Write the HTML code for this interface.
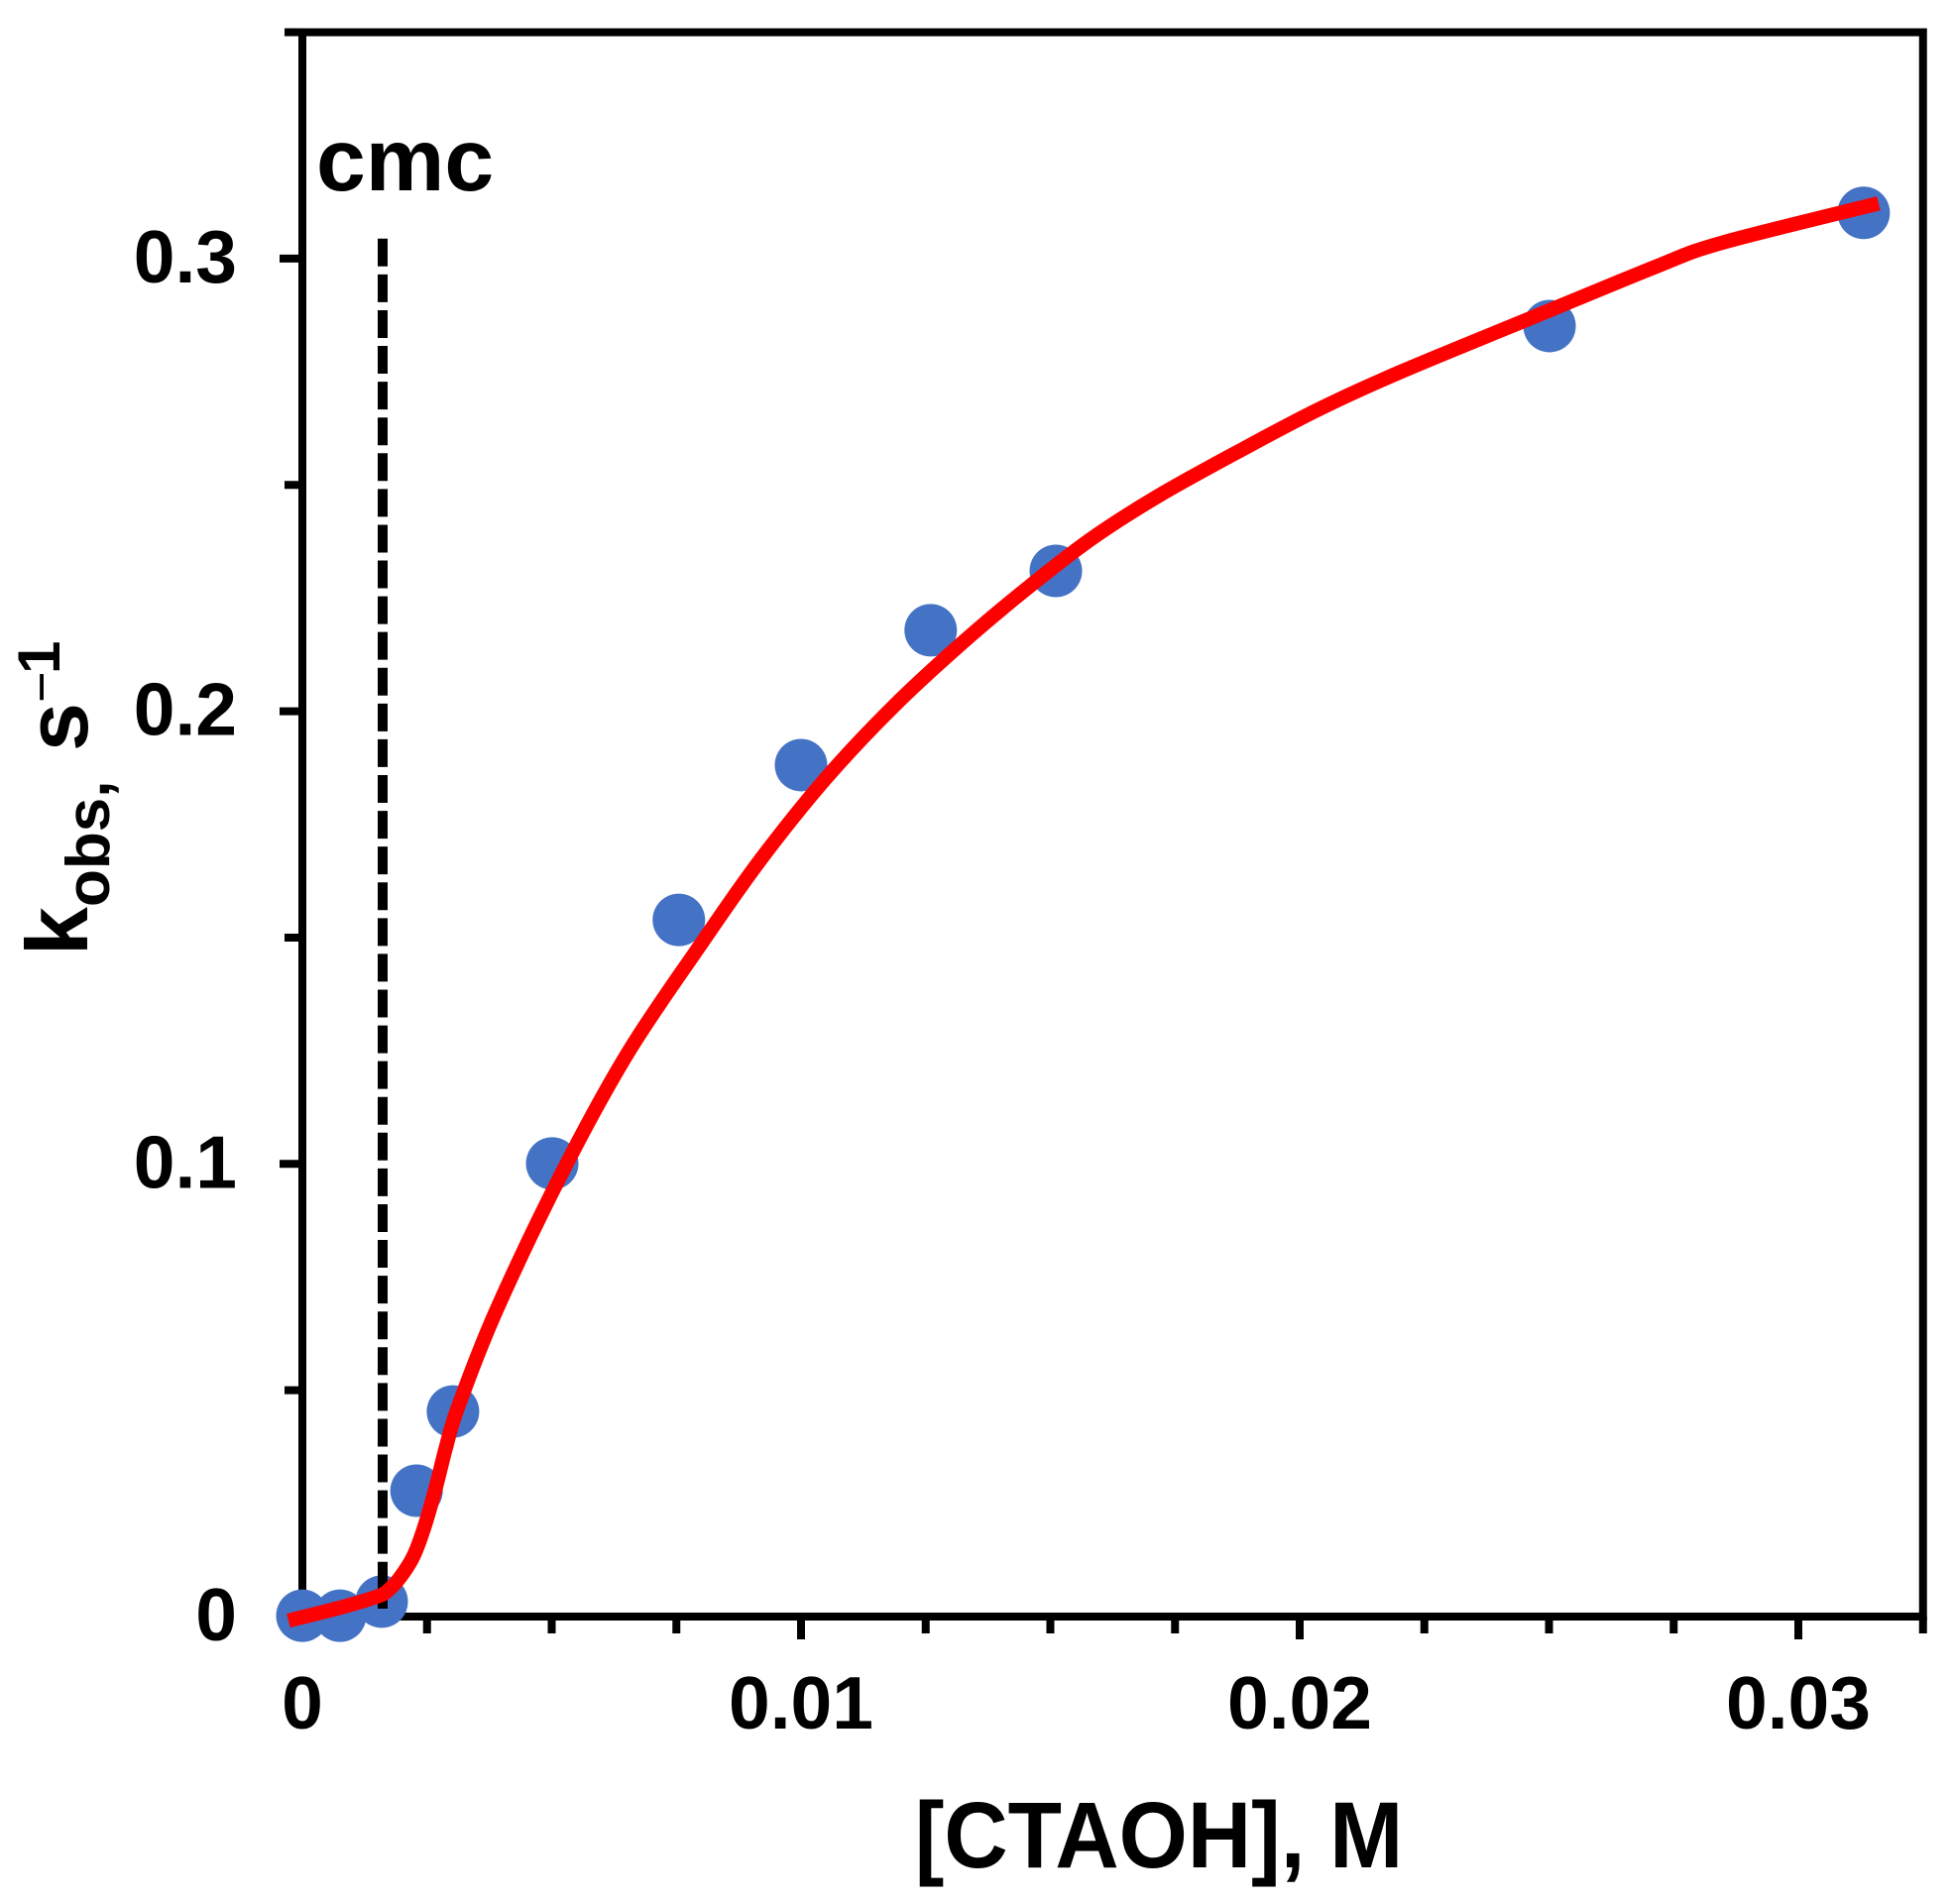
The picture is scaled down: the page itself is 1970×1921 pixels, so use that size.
<!DOCTYPE html>
<html lang="en">
<head>
<meta charset="utf-8">
<title>kobs vs [CTAOH]</title>
<style>
html,body{margin:0;padding:0;background:#fff;}
svg{position:absolute;left:0;top:0;display:block;}
text{font-family:"Liberation Sans",Arial,sans-serif;font-weight:700;fill:#000;}
</style>
</head>
<body>
<svg id="chart" xmlns="http://www.w3.org/2000/svg" width="1970" height="1921" viewBox="0 0 1970 1921">
  <rect x="0" y="0" width="1970" height="1921" fill="#fff"/>
  <g id="axes"></g>
  <g id="points"></g>
  <g id="cmc-group"></g>
  <g id="curve"></g>
  <text x="319" y="192" font-size="89.5">cmc</text>
  <text transform="translate(1169,1884) scale(1,1.06)" x="0" y="0" font-size="89" text-anchor="middle">[CTAOH], M</text>
  <text transform="rotate(-90)" font-size="88"><tspan x="-964" y="88">k</tspan><tspan x="-915" y="110" font-size="62">obs,</tspan><tspan x="-758" y="88">s</tspan><tspan x="-709" y="60" font-size="54" font-weight="400">−</tspan><tspan x="-680" y="60" font-size="60">1</tspan></text>
</svg>
<script>
const xMajorTicks = [0, 0.01, 0.02, 0.03];
const xMinorTicks = [0.0025, 0.005, 0.0075, 0.0125, 0.015, 0.0175, 0.0225, 0.025, 0.0275, 0.0325];
const xTickLabels = ["0", "0.01", "0.02", "0.03"];
const yMajorTicks = [0, 0.1, 0.2, 0.3];
const yMinorTicks = [0.05, 0.15, 0.25, 0.35];
const yTickLabels = ["0", "0.1", "0.2", "0.3"];
const concentrations = [0, 0.000755, 0.00159, 0.00229, 0.00302, 0.00501, 0.00755, 0.0100, 0.0126, 0.01511, 0.02501, 0.03131];
const kObserved = [0.0002, 0.0002, 0.0033, 0.0278, 0.0453, 0.1001, 0.1539, 0.1881, 0.2179, 0.2310, 0.2851, 0.3101];
const fitConcentrations = [-0.00028, 0.00083, 0.00149, 0.00169, 0.00195, 0.00223, 0.00245, 0.00268, 0.00288, 0.00312, 0.00388, 0.00521, 0.00652, 0.00799, 0.00918, 0.01050, 0.01183, 0.01316, 0.01447, 0.01581, 0.01714, 0.01879, 0.02038, 0.02203, 0.02469, 0.02714, 0.02847, 0.03161];
const fitK = [-0.0009, 0.0022, 0.0044, 0.0055, 0.0085, 0.0134, 0.0199, 0.0287, 0.0374, 0.0462, 0.0674, 0.0981, 0.1244, 0.1485, 0.1671, 0.1852, 0.2008, 0.2144, 0.2266, 0.2380, 0.2474, 0.2575, 0.2667, 0.2750, 0.2871, 0.2982, 0.3035, 0.3122];
const cmcValue = 0.00161;
const cmcRange = [0.00175, 0.3044];

const NS = "http://www.w3.org/2000/svg";
const X0 = 305, XPER = 50300, Y0 = 1631, YPER = 4567;
function xScale(v) { return X0 + v * XPER; }
function yScale(v) { return Y0 - v * YPER; }
function make(tag, parent, props) {
  const el = document.createElementNS(NS, tag);
  for (const k in props) el.setAttribute(k, props[k]);
  parent.appendChild(el);
  return el;
}

const axes = document.getElementById("axes");
const frame = make("rect", axes, {x: xScale(0), y: yScale(0.35), width: xScale(0.0325) - xScale(0), height: yScale(0) - yScale(0.35), fill: "none", stroke: "#000", "stroke-width": 8});



xMajorTicks.forEach(function (v, i) {
  const t = make("line", axes, {x1: xScale(v), x2: xScale(v), y1: Y0, y2: 1654, stroke: "#000", "stroke-width": 8});
  
  
  const l = make("text", axes, {x: xScale(v), y: 1744, "font-size": 75, "text-anchor": "middle"});
  
  
  l.textContent = xTickLabels[i];
});
xMinorTicks.forEach(function (v) {
  const t = make("line", axes, {x1: xScale(v), x2: xScale(v), y1: Y0, y2: 1648, stroke: "#000", "stroke-width": 8});
  
  
});
yMajorTicks.forEach(function (v, i) {
  const t = make("line", axes, {x1: 282, x2: X0, y1: yScale(v), y2: yScale(v), stroke: "#000", "stroke-width": 8});
  
  
  const l = make("text", axes, {x: 239, y: yScale(v) + 24, "font-size": 75, "text-anchor": "end"});
  
  
  l.textContent = yTickLabels[i];
});
yMinorTicks.forEach(function (v) {
  const t = make("line", axes, {x1: 287, x2: X0, y1: yScale(v), y2: yScale(v), stroke: "#000", "stroke-width": 8});
  
  
});

const points = document.getElementById("points");
concentrations.forEach(function (v, i) {
  const c = make("circle", points, {cx: xScale(v), cy: yScale(kObserved[i]), r: 26.5, fill: "#4472C4"});
  
  
});

const cmcGroup = document.getElementById("cmc-group");
const cmcLine = make("line", cmcGroup, {x1: xScale(cmcValue), x2: xScale(cmcValue), y1: yScale(cmcRange[1]), y2: yScale(cmcRange[0]), stroke: "#000", "stroke-width": 10, "stroke-dasharray": "28 8.08"});



function smoothPath(xs, ys) {
  const p = xs.map(function (v, i) { return [xScale(v), yScale(ys[i])]; });
  let d = "M" + p[0][0].toFixed(2) + " " + p[0][1].toFixed(2);
  for (let i = 0; i < p.length - 1; i++) {
    const a = p[Math.max(i - 1, 0)], b = p[i], c = p[i + 1], e = p[Math.min(i + 2, p.length - 1)];
    const c1x = b[0] + (c[0] - a[0]) / 6, c1y = b[1] + (c[1] - a[1]) / 6;
    const c2x = c[0] - (e[0] - b[0]) / 6, c2y = c[1] - (e[1] - b[1]) / 6;
    d += "C" + c1x.toFixed(2) + " " + c1y.toFixed(2) + " " + c2x.toFixed(2) + " " + c2y.toFixed(2) + " " + c[0].toFixed(2) + " " + c[1].toFixed(2);
  }
  return d;
}
const curveGroup = document.getElementById("curve");
const curve = make("path", curveGroup, {d: smoothPath(fitConcentrations, fitK), fill: "none", stroke: "#FF0000", "stroke-width": 14.5, "stroke-linejoin": "round", "stroke-linecap": "butt"});


</script>
</body>
</html>
